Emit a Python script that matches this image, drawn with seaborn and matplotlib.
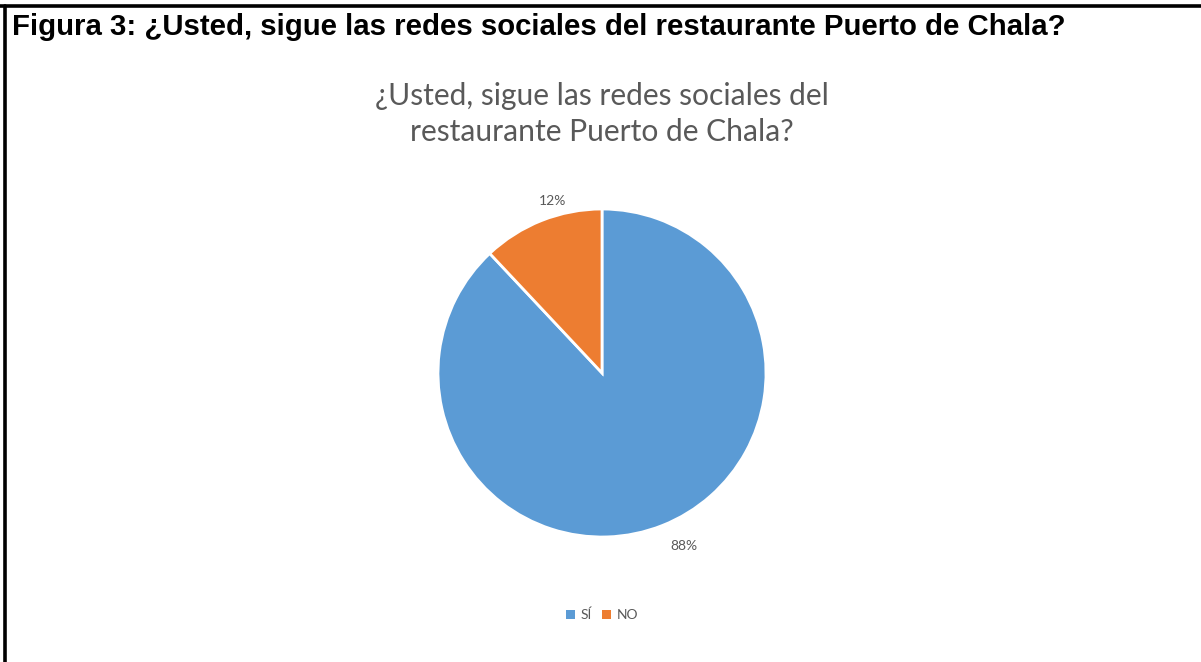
import matplotlib
matplotlib.use("Agg")
import matplotlib.pyplot as plt
import seaborn as sns
import numpy as np
from matplotlib.lines import Line2D
from matplotlib.patches import Patch

categories = ["SÍ", "NO"]
values = [88, 12]
colors = ["#5B9BD5", "#ED7D31"]
header = "Figura 3: ¿Usted, sigue las redes sociales del restaurante Puerto de Chala?"
chart_title = "¿Usted, sigue las redes sociales del\nrestaurante Puerto de Chala?"

sns.set_theme(style="white")
plt.rcParams["font.family"] = ["Lato", "DejaVu Sans"]

W, H = 1201, 662
fig = plt.figure(figsize=(W / 100, H / 100), dpi=100)
fig.patch.set_facecolor("white")

# border lines (top and left)
fig.add_artist(Line2D([0, 1], [1 - 5.5 / H, 1 - 5.5 / H], color="black", lw=2.6, transform=fig.transFigure))
fig.add_artist(Line2D([4.5 / W, 4.5 / W], [0, 1 - 5.5 / H], color="black", lw=2.6, transform=fig.transFigure))

# header
fig.text(12 / W, 1 - 27 / H, header, fontsize=21.2, fontweight="bold",
         family="Liberation Sans", color="black", va="center", ha="left")

# chart title
fig.text(602 / W, 1 - 114 / H, chart_title, fontsize=21.6, color="#595959",
         ha="center", va="center", linespacing=1.32, family=["Lato", "DejaVu Sans"])

# pie
cx, cy, r = 602, 373, 164
ax = fig.add_axes([(cx - r) / W, (H - cy - r) / H, 2 * r / W, 2 * r / H])
wedges, texts, autotexts = ax.pie(
    values, colors=colors, startangle=90, counterclock=False,
    autopct=lambda p: f"{p:.0f}%", pctdistance=1.15,
    wedgeprops=dict(edgecolor="white", linewidth=2),
    textprops=dict(color="#595959", fontsize=10),
)
# Excel-like "best fit" placement of the outside labels (order: SÍ, NO)
offsets = [(3.7, 1.17), (-5.4, 1.09)]  # (angle shift in degrees, radius)
for w, t, (da, rr) in zip(wedges, autotexts, offsets):
    mid = np.deg2rad((w.theta1 + w.theta2) / 2 + da)
    t.set_position((rr * np.cos(mid), rr * np.sin(mid)))
ax.set_xlim(-1, 1)
ax.set_ylim(-1, 1)
ax.set_aspect("equal")
ax.axis("off")

# legend
handles = [Patch(facecolor=c, edgecolor="none") for c in colors]
fig.legend(handles, categories, loc="center", bbox_to_anchor=(602 / W, 1 - 615 / H),
           ncol=2, frameon=False, fontsize=10, handlelength=0.6, handleheight=0.6,
           handletextpad=0.4, columnspacing=0.8, labelcolor="#595959")

fig.savefig("out.png", dpi=100, facecolor="white")
